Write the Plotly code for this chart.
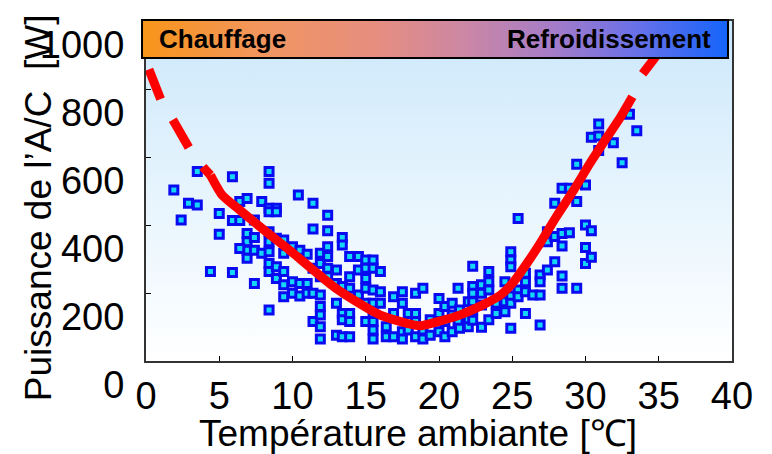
import base64
import plotly.graph_objects as go

# ---- data ----
temp_x = [1.9, 2.4, 2.9, 3.5, 3.5, 4.4, 5.0, 5.0, 5.9, 5.9, 5.9, 6.4, 6.4, 6.9, 6.9, 6.9, 6.9, 6.9, 6.4, 7.4,
          7.4, 7.4, 7.4, 7.9, 7.9, 8.4, 8.4, 8.4, 8.9, 8.4, 8.9, 8.4, 8.4, 8.4, 8.4, 8.4, 8.4, 8.9, 8.9, 8.9,
          9.4, 9.4, 9.4, 9.4, 9.4, 10.0, 10.0, 10.0, 10.4, 10.5, 10.5, 10.5, 11.0, 11.0, 11.0, 11.4, 11.4, 11.4, 11.4, 11.4,
          11.9, 11.9, 11.9, 11.9, 11.9, 11.9, 11.9, 11.9, 12.4, 12.4, 12.4, 12.4, 12.4, 12.4, 13.0, 13.0, 13.0, 13.0, 13.4, 13.4,
          13.4, 13.4, 13.4, 13.4, 13.9, 14.5, 13.9, 13.9, 13.9, 13.9, 13.9, 14.5, 14.5, 15.0, 15.0, 15.0, 15.0, 15.0, 15.0, 15.5,
          15.5, 15.5, 15.5, 15.5, 15.5, 15.5, 15.5, 16.0, 16.0, 16.0, 16.4, 16.4, 16.9, 16.9, 16.9, 17.5, 17.5, 17.5, 17.5, 17.9,
          17.9, 18.4, 18.4, 18.4, 18.4, 18.9, 18.9, 18.9, 19.4, 19.4, 20.0, 20.0, 20.0, 20.4, 20.4, 20.4, 20.9, 20.9, 20.9, 21.3,
          21.3, 21.4, 21.4, 22.0, 22.0, 22.0, 22.3, 22.3, 22.3, 22.3, 22.3, 22.3, 22.9, 22.9, 22.9, 22.9, 23.4, 23.4, 23.4, 23.4,
          23.9, 23.9, 24.5, 24.5, 24.5, 24.9, 24.9, 24.9, 24.9, 24.9, 24.9, 25.4, 25.4, 25.4, 25.9, 25.9, 25.9, 25.9, 26.4, 26.9,
          26.9, 26.9, 26.9, 27.4, 27.4, 27.4, 27.9, 27.9, 27.9, 28.4, 28.4, 28.4, 28.4, 28.4, 28.9, 28.9, 29.4, 29.4, 29.4, 30.0,
          30.0, 30.0, 30.0, 30.4, 30.4, 30.4, 30.9, 30.9, 30.9, 31.9, 32.5, 33.0, 33.5]
power_y = [503, 415, 464, 459, 557, 263, 434, 373, 542, 413, 260, 469, 413, 478, 375, 351, 326, 302, 331, 415,
           363, 326, 228, 469, 317, 557, 523, 449, 449, 439, 439, 380, 351, 321, 287, 263, 150, 361, 277, 243,
           356, 317, 263, 224, 189, 336, 233, 199, 488, 326, 228, 191, 314, 228, 199, 464, 388, 273, 199, 116,
           317, 287, 248, 194, 160, 135, 101, 65, 429, 383, 336, 307, 273, 248, 268, 228, 170, 76, 363, 341,
           219, 140, 121, 71, 307, 307, 248, 214, 140, 116, 71, 268, 194, 297, 273, 243, 214, 170, 116, 297,
           273, 209, 170, 140, 116, 91, 65, 263, 204, 170, 101, 71, 189, 140, 71, 204, 170, 86, 65, 140,
           91, 199, 140, 116, 71, 214, 91, 65, 121, 76, 184, 140, 86, 160, 116, 71, 170, 135, 86, 214,
           116, 150, 96, 174, 121, 101, 279, 219, 199, 174, 150, 120, 224, 199, 165, 99, 263, 233, 209, 121,
           170, 140, 233, 174, 145, 321, 297, 277, 191, 170, 96, 419, 209, 189, 258, 233, 204, 140, 194, 253,
           233, 194, 106, 380, 351, 268, 464, 292, 366, 508, 375, 338, 250, 214, 508, 377, 579, 469, 214, 518,
           400, 334, 287, 383, 305, 658, 697, 662, 619, 642, 583, 726, 677]

fit_left_x = [0.2, 1.0, 2.0, 3.0, 4.0, 4.4]
fit_left_y = [858, 770, 697, 622, 565, 547]
fit_mid_x = [4.4, 5.2, 6.4, 8.2, 9.8, 11.4, 12.8, 14.2, 16.0, 17.8, 18.8, 20.1, 21.4, 23.0, 24.2,
             25.1, 26.0, 26.9, 28.0, 29.2, 30.3, 31.5, 32.4, 33.2]
fit_mid_y = [547, 488, 444, 380, 326, 268, 219, 179, 135, 111, 104, 118, 135, 165, 194,
             233, 287, 346, 424, 503, 581, 660, 718, 777]
fit_right_x = [33.9, 34.8, 35.6]
fit_right_y = [845, 893, 940]

x_ticks = [0, 5, 10, 15, 20, 25, 30, 35, 40]
y_ticks = [0, 200, 400, 600, 800, 1000]
y_tick_text = ["0", "200", "400", "600", "800", "1000"]

x_title = "Température ambiante [℃]"
y_title = "Puissance de l’A/C\u00a0\u00a0[W]"
label_heat = "Chauffage"
label_cool = "Refroidissement"

FONT = "Liberation Sans, Arial, sans-serif"


def svg_uri(svg):
    return "data:image/svg+xml;base64," + base64.b64encode(svg.encode()).decode()


bg_svg = ("<svg xmlns='http://www.w3.org/2000/svg' width='100' height='100' preserveAspectRatio='none'>"
          "<defs><linearGradient id='g' x1='0' y1='0' x2='0' y2='1'>"
          "<stop offset='0' stop-color='#CCE8FB'/><stop offset='0.5' stop-color='#E6F4FD'/>"
          "<stop offset='1' stop-color='#FFFFFF'/></linearGradient></defs>"
          "<rect width='100' height='100' fill='url(#g)'/></svg>")
banner_svg = ("<svg xmlns='http://www.w3.org/2000/svg' width='100' height='100' preserveAspectRatio='none'>"
              "<defs><linearGradient id='h' x1='0' y1='0' x2='1' y2='0'>"
              "<stop offset='0' stop-color='#F8951A'/><stop offset='0.2' stop-color='#F2965E'/>"
              "<stop offset='0.4' stop-color='#E68E80'/><stop offset='0.55' stop-color='#CC87A4'/>"
              "<stop offset='0.7' stop-color='#A67CC8'/><stop offset='0.85' stop-color='#6670EA'/>"
              "<stop offset='1' stop-color='#1464FB'/></linearGradient></defs>"
              "<rect width='100' height='100' fill='url(#h)'/></svg>")

fig = go.Figure()

fig.add_trace(go.Scatter(
    x=temp_x, y=power_y, mode="markers",
    marker=dict(symbol="square", size=8, color="#14D6F6",
                line=dict(color="#0A0AF0", width=3)),
    showlegend=False, hoverinfo="skip"))

line_style = dict(color="#FF0000", width=9)
fig.add_trace(go.Scatter(x=fit_left_x, y=fit_left_y, mode="lines",
                         line=dict(line_style, dash="32px,24px"), showlegend=False))
fig.add_trace(go.Scatter(x=fit_mid_x, y=fit_mid_y, mode="lines",
                         line=dict(line_style, shape="spline", smoothing=0.6), showlegend=False))
fig.add_trace(go.Scatter(x=fit_right_x, y=fit_right_y, mode="lines",
                         line=dict(line_style, dash="32px,24px"), showlegend=False))

fig.update_layout(
    width=772, height=454,
    margin=dict(l=146, r=40, t=21, b=93, autoexpand=False),
    paper_bgcolor="white", plot_bgcolor="rgba(0,0,0,0)",
    font=dict(family=FONT, color="black", size=36),
    xaxis=dict(range=[0, 40], tickvals=x_ticks, ticks="inside", ticklen=5, tickcolor="black",
               showgrid=False, zeroline=False, showline=True, linecolor="#333333", linewidth=2,
               mirror=True, tickfont=dict(size=38), ticklabelstandoff=0, automargin=False),
    yaxis=dict(range=[0, 1000], tickvals=y_ticks, ticktext=y_tick_text, ticks="inside", ticklen=5,
               tickcolor="black", showgrid=False, zeroline=False, showline=True, linecolor="#333333",
               linewidth=2, mirror=True, tickfont=dict(size=38), ticklabelshift=24,
               ticklabelstandoff=12, automargin=False),
    images=[
        dict(source=svg_uri(bg_svg), xref="paper", yref="paper", x=0, y=1, sizex=1, sizey=1,
             sizing="stretch", layer="below", xanchor="left", yanchor="top"),
        dict(source=svg_uri(banner_svg), xref="paper", yref="paper", x=-0.0068, y=1.003,
             sizex=1.0, sizey=0.112, sizing="stretch", layer="above", xanchor="left", yanchor="top"),
    ],
    shapes=[dict(type="rect", xref="paper", yref="paper", x0=-0.0068, x1=0.9932, y0=0.891, y1=1.003,
                 line=dict(color="black", width=2), layer="above")],
    annotations=[
        dict(text=label_heat, xref="paper", yref="paper", x=0.019, y=0.948, xanchor="left",
             yanchor="middle", showarrow=False, font=dict(size=26, family=FONT, weight="bold")),
        dict(text=label_cool, xref="paper", yref="paper", x=0.968, y=0.948, xanchor="right",
             yanchor="middle", showarrow=False, font=dict(size=26, family=FONT, weight="bold")),
        dict(text=x_title, xref="paper", yref="paper", x=0.465, y=-0.212, xanchor="center",
             yanchor="middle", showarrow=False, font=dict(size=37, family=FONT)),
        dict(text=y_title, xref="paper", yref="paper", x=-0.184, y=0.45, xanchor="center",
             yanchor="middle", textangle=-90, showarrow=False, font=dict(size=37, family=FONT)),
    ],
)

fig.write_html("out.html", config={"displayModeBar": False},
               post_script="document.body.style.margin='0';document.body.style.overflow='hidden';")
